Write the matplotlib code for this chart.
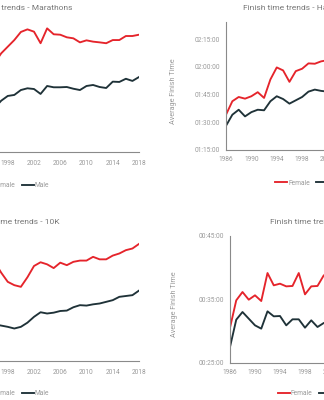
import matplotlib.pyplot as plt
import matplotlib.ticker as mticker

plt.rcParams['font.family'] = ['Roboto', 'DejaVu Sans']

red = '#e5242b'
dark = '#1f3238'
grey_txt = '#9a9a9a'
title_col = '#777777'

# --- data (minutes) ---
# marathons, only the visible part (1996-2018)
mar_years = list(range(1996, 2019))
mar_female = [271.6, 278.3, 282.9, 287.5, 293.1, 294.9, 293.3, 285.3, 295.6, 291.5, 291.2, 289.4,
              288.7, 285.9, 287.3, 286.4, 285.9, 285.3, 287.5, 287.5, 290.3, 290.3, 291.2]
mar_male = [240.5, 245.5, 248.8, 249.5, 252.9, 254.1, 253.6, 250.2, 255.7, 254.8, 254.8, 255.0,
            253.8, 252.9, 255.7, 256.4, 255.0, 254.3, 258.7, 258.5, 260.7, 259.2, 261.9]

# half marathons, visible part (1986-2002)
half_years = list(range(1986, 2003))
half_female = [94.1, 101.4, 103.7, 102.8, 104.1, 106.3, 103.2, 113.2, 119.7, 118.1, 111.9, 117.7,
               119.0, 121.9, 121.7, 123.0, 123.6]
half_male = [88.1, 94.1, 96.8, 93.2, 95.5, 96.8, 96.5, 101.4, 104.1, 102.6, 100.1, 101.9,
             103.7, 106.6, 107.7, 107.0, 106.6]

# 10K, visible part (1996-2018)
tenk_years = list(range(1996, 2019))
tenk_female = [68.8, 66.2, 64.0, 63.2, 62.8, 65.1, 67.8, 68.7, 68.2, 67.3, 68.6, 68.0,
               68.8, 69.1, 69.1, 70.0, 69.4, 69.4, 70.3, 70.8, 71.6, 72.0, 73.1]
tenk_male = [53.8, 53.5, 53.2, 52.8, 53.2, 54.2, 55.6, 56.7, 56.4, 56.6, 57.0, 57.1,
             57.9, 58.4, 58.3, 58.6, 58.8, 59.2, 59.6, 60.4, 60.6, 60.8, 61.9]

# 5K, visible part (1986-2002)
fivek_years = list(range(1986, 2003))
fivek_female = [30.56, 34.87, 36.18, 34.97, 35.66, 34.76, 39.17, 37.23, 37.49, 37.07, 37.13, 39.17,
                35.81, 37.07, 37.13, 38.8, 39.3]
fivek_male = [27.52, 31.82, 33.03, 31.98, 30.93, 30.41, 33.14, 32.35, 32.40, 30.93, 31.88, 31.88,
              30.56, 31.72, 30.67, 31.3, 31.5]


def hms(v, pos):
    v = int(round(v))
    return '%02d:%02d:00' % (v // 60, v % 60)


def panel(rect, years, fem, male, title, ylim, yticks, leg_y, ylab_x=None, xpad=4):
    ax = fig.add_axes(rect)
    ax.plot(years, fem, color=red, lw=1.35, label='Female')
    ax.plot(years, male, color=dark, lw=1.35, label='Male')
    ax.set_xlim(1986, 2018)
    ax.set_ylim(*ylim)
    ax.set_xticks(range(1986, 2019, 4))
    ax.set_yticks(yticks)
    ax.yaxis.set_major_formatter(mticker.FuncFormatter(hms))
    ax.tick_params(length=0, labelsize=4.7, colors=grey_txt, pad=4)
    ax.tick_params(axis='x', pad=xpad)
    for s in ['top', 'right']:
        ax.spines[s].set_visible(False)
    for s in ['left', 'bottom']:
        ax.spines[s].set_color('#8a8a8a')
        ax.spines[s].set_linewidth(0.8)
    ax.set_title(title, x=0.41, fontsize=6.0, color=title_col, pad=9)
    if ylab_x is not None:
        ax.set_ylabel('Average Finish Time', fontsize=5.2, color=grey_txt)
        ax.yaxis.set_label_coords(ylab_x, 0.46)
    ax.legend(loc='center', bbox_to_anchor=(0.41, leg_y), ncol=2, frameon=False,
              fontsize=4.8, handlelength=1.8, handletextpad=0.1, columnspacing=0.9,
              labelcolor=grey_txt)
    return ax


fig = plt.figure(figsize=(3.24, 4.0), dpi=100)
W, H = 324.0, 400.0

panel([-71 / W, 1 - 152 / H, 210 / W, 130 / H], mar_years, mar_female, mar_male,
      'Finish time trends - Marathons', (210, 300), [210, 240, 270, 300], -0.26, xpad=6)
panel([226 / W, 1 - 150 / H, 203 / W, 128 / H], half_years, half_female, half_male,
      'Finish time trends - Half Marathons', (75, 144.3), [75, 90, 105, 120, 135], -0.26, -0.24)
panel([-71 / W, 1 - 361 / H, 210 / W, 125 / H], tenk_years, tenk_female, tenk_male,
      'Finish time trends - 10K', (45, 75), [45, 55, 65, 75], -0.26, xpad=6)
panel([230 / W, 1 - 363 / H, 200 / W, 127 / H], fivek_years, fivek_female, fivek_male,
      'Finish time trends - 5K', (25, 45), [25, 35, 45], -0.24, -0.26)

fig.savefig('out.png', dpi=100)
